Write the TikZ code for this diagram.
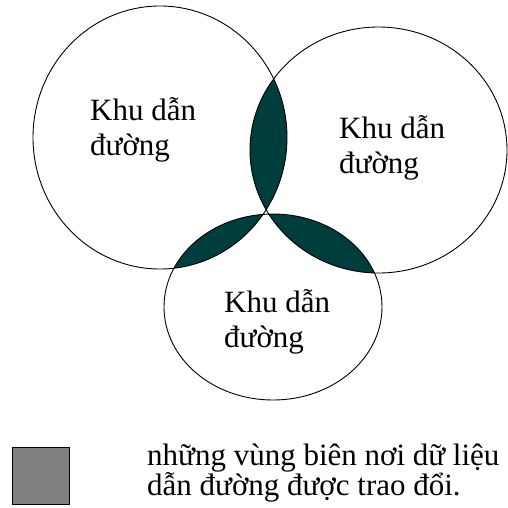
\documentclass[tikz,border=0pt]{standalone}
\usepackage{fontspec}
\setmainfont{Liberation Serif}
\usetikzlibrary{positioning}
\definecolor{zonedark}{HTML}{003D3D}
\definecolor{legendgray}{HTML}{808080}

% the three zones, in pixel units (y runs down)
\newcommand\zoneleft{(160,137.5) ellipse [x radius=127, y radius=131.5]}
\newcommand\zoneright{(378.5,150) ellipse [x radius=128.5, y radius=123]}
\newcommand\zonebottom{(273,307) ellipse [x radius=109, y radius=93]}
\newcommand\keyfont{\fontsize{31}{30}\selectfont\lineskiplimit=-60pt\relax}

\begin{document}
\begin{tikzpicture}[
    x=1pt, y=-1pt,
    rim/.style={draw=black, line width=0.9pt},
    zonelabel/.style={anchor=base west, inner sep=0pt, align=left,
                font=\fontsize{31}{35}\selectfont},
    legendbox/.style={rectangle, draw=black, line width=1.5pt, fill=legendgray,
                minimum width=57pt, minimum height=57pt, inner sep=0pt},
    legendtext/.style={anchor=base west, inner sep=0pt, align=left,
                font=\keyfont}
  ]
  \useasboundingbox (0,0) rectangle (508,507);

  % shared borders
  \begin{scope}
    \clip \zoneleft;
    \fill[zonedark] \zoneright;
    \fill[zonedark] \zonebottom;
  \end{scope}
  \begin{scope}
    \clip \zoneright;
    \fill[zonedark] \zonebottom;
  \end{scope}

  \draw[rim] \zoneleft;
  \draw[rim] \zoneright;
  \draw[rim] \zonebottom;

  % base anchor sits on the last line
  \node[zonelabel] (lblleft) at (90,155) {Khu dẫn\\đường};
  \node[zonelabel] (lblright) at (339,173) {Khu dẫn\\đường};
  \node[zonelabel] (lblbottom) at (224,347) {Khu dẫn\\đường};

  \node[legendbox] (key) at (41,476) {};
  \node[legendtext] (keytext) at (147,495) {những vùng biên nơi dữ liệu\\dẫn đường được trao đổi.};
\end{tikzpicture}
\end{document}
